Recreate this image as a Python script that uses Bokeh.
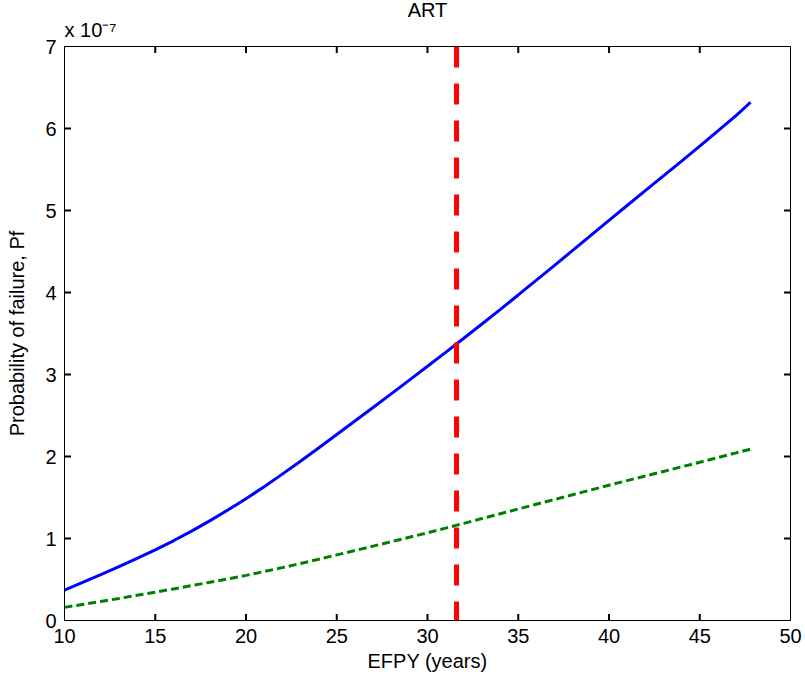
from bokeh.plotting import figure
from bokeh.models import Range1d, FixedTicker, Span, Title
from bokeh.embed import file_html
from bokeh.resources import INLINE

# Data (probability of failure in units of 1e-7)
efpy = [10, 11, 12, 13, 14, 15, 16, 17, 18, 19, 20, 21, 22, 23, 24, 25, 26, 27, 28, 29,
        30, 31, 32, 33, 34, 35, 36, 37, 38, 39, 40, 41, 42, 43, 44, 45, 46, 47, 47.8]
pf_blue = [0.37, 0.464, 0.56, 0.658, 0.758, 0.862, 0.972, 1.09, 1.215, 1.347, 1.485, 1.632,
           1.785, 1.942, 2.103, 2.268, 2.432, 2.597, 2.764, 2.932, 3.10, 3.27, 3.442, 3.616,
           3.792, 3.97, 4.15, 4.331, 4.513, 4.696, 4.88, 5.061, 5.242, 5.423, 5.603, 5.785,
           5.97, 6.157, 6.32]
pf_green = [0.16, 0.196, 0.232, 0.269, 0.307, 0.345, 0.385, 0.425, 0.466, 0.508, 0.55, 0.597,
            0.645, 0.695, 0.747, 0.80, 0.853, 0.907, 0.961, 1.015, 1.07, 1.127, 1.185, 1.243,
            1.301, 1.36, 1.418, 1.476, 1.534, 1.592, 1.65, 1.706, 1.762, 1.818, 1.874, 1.93,
            1.987, 2.044, 2.09]
art_x = 31.6
x_ticks = [10, 15, 20, 25, 30, 35, 40, 45, 50]
y_ticks = [0, 1, 2, 3, 4, 5, 6, 7]
x_lo, x_hi = 10, 50
y_lo, y_hi = 0, 7

FONT = "Liberation Sans"
FS = "20px"

p = figure(width=805, height=680, output_backend="svg", toolbar_location=None,
           x_range=Range1d(x_lo, x_hi), y_range=Range1d(y_lo, y_hi),
           min_border_left=64, min_border_right=15, min_border_top=46, min_border_bottom=60,
           title="ART")
p.title.align = "center"
p.title.text_font = FONT
p.title.text_font_size = FS
p.title.text_font_style = "normal"
p.title.text_color = "black"
p.title.offset = 0
p.title.standoff = -18

p.add_layout(Title(text="x 10\u207b\u2077", align="left", text_font=FONT,
                   text_font_size=FS, text_font_style="normal", text_color="black",
                   standoff=11, offset=0), "above")

p.grid.visible = False
p.outline_line_color = "black"
p.outline_line_width = 1
p.background_fill_color = "white"
p.border_fill_color = "white"

xa = p.xaxis[0]
xa.ticker = FixedTicker(ticks=x_ticks)
ya = p.yaxis[0]
ya.ticker = FixedTicker(ticks=y_ticks)
for ax in (xa, ya):
    ax.major_tick_in = 0
    ax.major_tick_out = 0
    ax.minor_tick_in = 0
    ax.minor_tick_out = 0
    ax.axis_line_color = "black"
    ax.major_label_text_font = FONT
    ax.major_label_text_font_size = FS
    ax.major_label_text_color = "black"
    ax.axis_label_text_font = FONT
    ax.axis_label_text_font_size = FS
    ax.axis_label_text_font_style = "normal"
    ax.axis_label_text_color = "black"
xa.axis_label = "EFPY (years)"
ya.axis_label = "Probability of failure, Pf"
xa.major_label_standoff = 8
ya.major_label_standoff = 8
xa.axis_label_standoff = 4
ya.axis_label_standoff = 14

# inward tick marks on all four sides
tx = 6.5 * (x_hi - x_lo) / 726.0
ty = 6.5 * (y_hi - y_lo) / 574.0
xt = [t for t in x_ticks if x_lo < t < x_hi]
yt = [t for t in y_ticks if y_lo < t < y_hi]
tick_x = xt + xt
tick_y0 = [y_lo] * len(xt) + [y_hi] * len(xt)
tick_y1 = [y_lo + ty] * len(xt) + [y_hi - ty] * len(xt)
p.segment(x0=tick_x, y0=tick_y0, x1=tick_x, y1=tick_y1, line_color="#000000", line_width=2)
tick_yy = yt + yt
tick_x0 = [x_lo] * len(yt) + [x_hi] * len(yt)
tick_x1 = [x_lo + tx] * len(yt) + [x_hi - tx] * len(yt)
p.segment(x0=tick_x0, y0=tick_yy, x1=tick_x1, y1=tick_yy, line_color="#000000", line_width=2)

p.line(efpy, pf_blue, line_color="#0000ff", line_width=3)
p.line(efpy, pf_green, line_color="#008000", line_width=3, line_dash="8 4")
p.add_layout(Span(location=art_x, dimension="height", line_color="#ff0000",
                  line_width=5, line_dash="21 16"))

open("out.html", "w").write(file_html(p, INLINE))
